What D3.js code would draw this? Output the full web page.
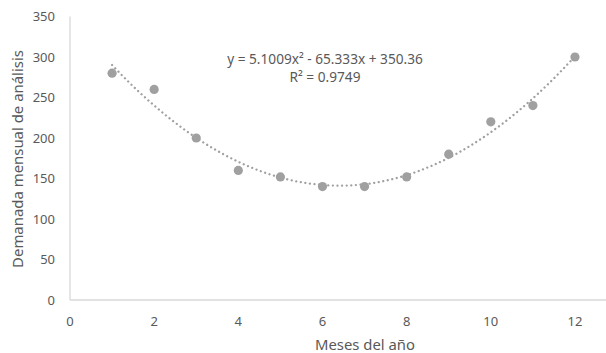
<!DOCTYPE html>
<html><head><meta charset="utf-8">
<script src="https://cdn.jsdelivr.net/npm/d3@7"></script>
<style>body{margin:0;background:#fff}svg{display:block}</style>
</head><body>
<script>
const months = [1,2,3,4,5,6,7,8,9,10,11,12];
const demand = [280,260,200,160,152,140,140,152,180,220,240,300];
const xTicks = [0,2,4,6,8,10,12];
const yTicks = [0,50,100,150,200,250,300,350];
const trendCoef = [5.1009, -65.333, 350.36]; // a, b, c
const eqLines = ["y = 5.1009x² - 65.333x + 350.36", "R² = 0.9749"];
const xTitle = "Meses del año";
const yTitle = "Demanada mensual de análisis";

const W = 606, H = 353;
const svg = d3.select("body").append("svg").attr("width", W).attr("height", H);
const font = "'Noto Sans', 'Open Sans', sans-serif";
const txt = "#595959", axisC = "#d9d9d9", mark = "#a0a0a0";

function fit(sel, target, base) {
  sel.attr("font-size", base);
  const len = sel.node().getComputedTextLength();
  sel.attr("font-size", base * target / len);
}

const x = d3.scaleLinear().domain([0,14]).range([70, 70 + 14*42.08]);
const y = d3.scaleLinear().domain([0,350]).range([300, 16.5]);

// axis lines
svg.append("line").attr("x1", x(0)).attr("x2", W).attr("y1", y(0)).attr("y2", y(0))
  .attr("stroke", axisC).attr("stroke-width", 1.3);
svg.append("line").attr("x1", x(0)).attr("x2", x(0)).attr("y1", y(0)).attr("y2", y(350))
  .attr("stroke", axisC).attr("stroke-width", 1.3);

// tick labels
svg.append("g").selectAll("text").data(yTicks).join("text")
  .attr("x", 55).attr("y", d => y(d)).attr("dy", "0.35em").attr("text-anchor", "end")
  .attr("font-family", font).attr("font-size", 13).attr("fill", txt).text(d => d);
svg.append("g").selectAll("text").data(xTicks).join("text")
  .attr("x", d => x(d)).attr("y", 321).attr("dy", "0.35em").attr("text-anchor", "middle")
  .attr("font-family", font).attr("font-size", 13).attr("fill", txt).text(d => d);

// titles
const xt = svg.append("text").attr("x", 365).attr("y", 350).attr("text-anchor", "middle")
  .attr("font-family", font).attr("fill", txt).text(xTitle);
fit(xt, 100, 14);
const yt = svg.append("text").attr("transform", "translate(18,159) rotate(-90)").attr("dy", "0.35em")
  .attr("text-anchor", "middle").attr("font-family", font).attr("fill", txt).text(yTitle);
fit(yt, 218, 14);

// trendline
const tr = d3.range(0, 221).map(i => 1 + i*11/220);
const f = t => trendCoef[0]*t*t + trendCoef[1]*t + trendCoef[2];
svg.append("path").datum(tr)
  .attr("d", d3.line().x(t => x(t)).y(t => y(f(t))))
  .attr("fill", "none").attr("stroke", mark).attr("stroke-width", 2.3)
  .attr("stroke-dasharray", "0.01 4.6").attr("stroke-linecap", "round");

// points
svg.append("g").selectAll("circle").data(months).join("circle")
  .attr("cx", d => x(d)).attr("cy", (d,i) => y(demand[i])).attr("r", 4.6).attr("fill", mark);

// equation
const eq = svg.append("g").selectAll("text").data(eqLines).join("text")
  .attr("x", 325).attr("y", (d,i) => 59 + i*18).attr("dy", "0.35em").attr("text-anchor", "middle")
  .attr("font-family", font).attr("fill", txt).text(d => d);
fit(d3.select(eq.nodes()[0]), 196, 13);
d3.select(eq.nodes()[1]).attr("font-size", d3.select(eq.nodes()[0]).attr("font-size"));
</script>
</body></html>
